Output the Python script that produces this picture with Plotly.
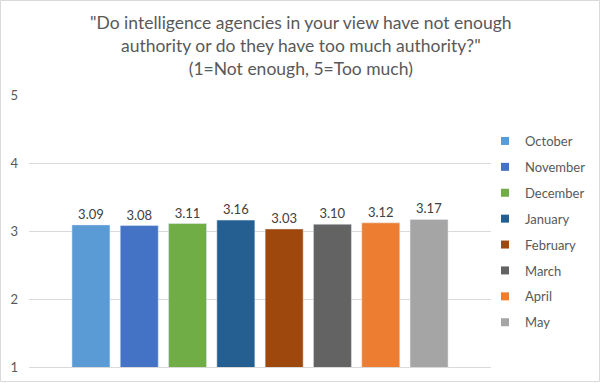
import plotly.graph_objects as go

months = ["October", "November", "December", "January", "February", "March", "April", "May"]
values = [3.09, 3.08, 3.11, 3.16, 3.03, 3.10, 3.12, 3.17]
colors = ["#5B9BD5", "#4472C4", "#70AD47", "#255E91", "#9E480E", "#636363", "#ED7D31", "#A5A5A5"]
y_ticks = [1, 2, 3, 4, 5]
title_text = ('"Do intelligence agencies in your view have not enough<br>'
              'authority or do they have too much authority?"<br>'
              '(1=Not enough, 5=Too much)')

FONT = "Lato, Carlito, sans-serif"
W, H = 601, 383
ML, MR, MT, MB = 29, 110, 95, 16
PW, PH = W - ML - MR, H - MT - MB

fig = go.Figure()
for m, v, c in zip(months, values, colors):
    fig.add_trace(go.Bar(
        x=[0], y=[v], name=m, marker_color=c, showlegend=False,
        texttemplate="%{y:.2f}", textposition="outside", cliponaxis=False,
        textfont=dict(family=FONT, size=13, color="#404040"),
        hoverinfo="name+y",
    ))
# legend entries with small square swatches
for m, c in zip(months, colors):
    fig.add_trace(go.Scatter(
        x=[None], y=[None], name=m, mode="markers", legendgroup=m,
        marker=dict(symbol="square", size=8, color=c), showlegend=True,
    ))

fig.update_layout(
    width=W, height=H,
    margin=dict(l=ML, r=MR, t=MT, b=MB, autoexpand=False),
    paper_bgcolor="white", plot_bgcolor="white",
    barmode="group", bargap=0.1636, bargroupgap=0.213,
    xaxis=dict(range=[-0.5, 0.5], showticklabels=False, showgrid=False, zeroline=False,
               showline=True, linecolor="#D9D9D9", linewidth=1, fixedrange=True),
    yaxis=dict(range=[1, 5], tickvals=y_ticks, showgrid=True, gridcolor="#D9D9D9",
               gridwidth=1, zeroline=False, showline=False, ticks="",
               tickfont=dict(family=FONT, size=13, color="#595959"),
               ticklabelstandoff=10),
    legend=dict(x=(485 - ML) / PW, xanchor="left", y=(H - MB - 126) / PH, yanchor="top",
                font=dict(family=FONT, size=13, color="#595959"),
                tracegroupgap=6, itemwidth=30, bgcolor="rgba(0,0,0,0)"),
    showlegend=True,
    annotations=[dict(
        text=title_text, showarrow=False,
        xref="paper", x=(W / 2 - ML) / PW, xanchor="center",
        yref="paper", y=1 + (MT - 10) / PH, yanchor="top",
        align="center",
        font=dict(family=FONT, size=17.5, color="#595959"),
    )],
    shapes=[dict(type="rect", xref="paper", yref="paper",
                 x0=-(ML - 0.5) / PW, x1=1 + (MR - 1.5) / PW,
                 y0=-(MB - 1.5) / PH, y1=1 + (MT - 0.5) / PH,
                 line=dict(color="#D9D9D9", width=1))],
)

fig.write_html("out.html", config={"displayModeBar": False},
               post_script="document.body.style.margin='0';document.body.style.overflow='hidden';")
